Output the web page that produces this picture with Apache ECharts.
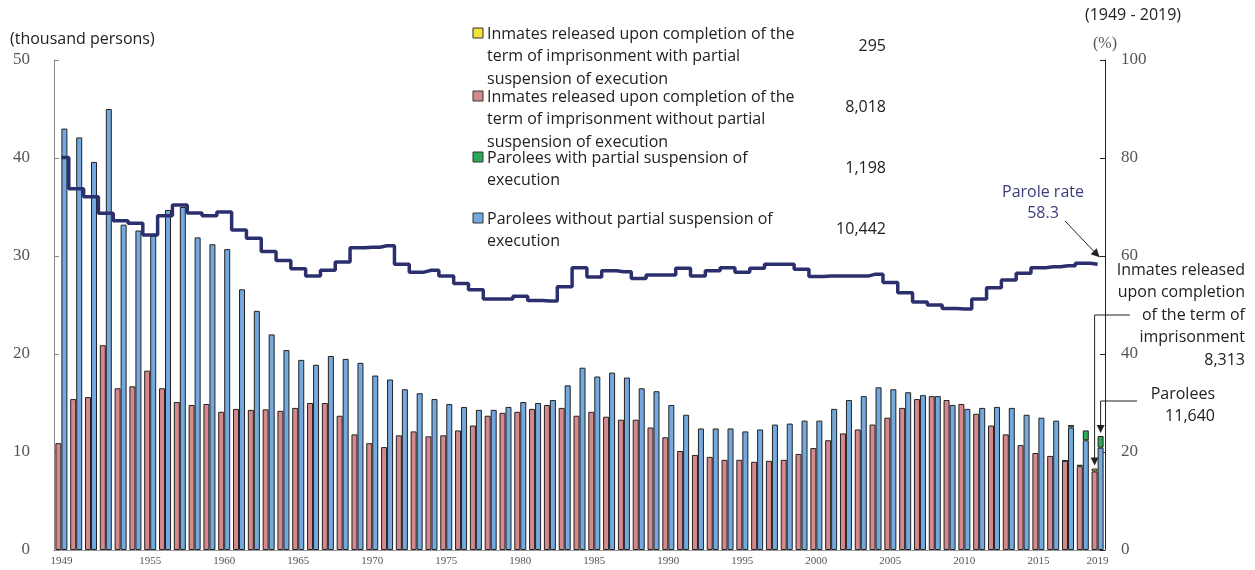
<!DOCTYPE html>
<html>
<head>
<meta charset="utf-8">
<script src="https://cdn.jsdelivr.net/npm/echarts@6/dist/echarts.min.js"></script>
<style>
  html, body { margin: 0; padding: 0; background: #fff; }
  #main { width: 1255px; height: 570px; }
</style>
</head>
<body>
<div id="main"></div>
<script>
// years on the category axis, 1949 - 2019
const years = [];
for (let y = 1949; y <= 2019; y++) years.push(String(y));
const tickYears = ['1949', '1955', '1960', '1965', '1970', '1975', '1980', '1985', '1990',
    '1995', '2000', '2005', '2010', '2015', '2019'];

// thousand persons
const releasedWithout = [
    10.9, 15.4, 15.6, 20.9, 16.5, 16.7, 18.3, 16.5, 15.1, 14.8,
    14.9, 14.1, 14.4, 14.3, 14.35, 14.2, 14.5, 15.0, 15.0, 13.7,
    11.8, 10.9, 10.5, 11.7, 12.1, 11.6, 11.7, 12.2, 12.7, 13.7,
    14.0, 14.1, 14.4, 14.8, 14.5, 13.7, 14.1, 13.6, 13.3, 13.3,
    12.5, 11.5, 10.1, 9.7, 9.5, 9.2, 9.2, 9.0, 9.1, 9.2,
    9.8, 10.4, 11.2, 11.9, 12.3, 12.8, 13.5, 14.5, 15.4, 15.7,
    15.3, 14.9, 13.9, 12.7, 11.8, 10.7, 9.9, 9.6, 9.1, 8.55,
    8.018
];
const releasedWith = [
    null, null, null, null, null, null, null, null, null, null,
    null, null, null, null, null, null, null, null, null, null,
    null, null, null, null, null, null, null, null, null, null,
    null, null, null, null, null, null, null, null, null, null,
    null, null, null, null, null, null, null, null, null, null,
    null, null, null, null, null, null, null, null, null, null,
    null, null, null, null, null, null, null, null, 0.03, 0.15,
    0.295
];
const paroleWithout = [
    43.0, 42.1, 39.6, 45.0, 33.2, 32.6, 32.1, 34.7, 35.0, 31.9,
    31.2, 30.7, 26.6, 24.4, 22.0, 20.4, 19.4, 18.9, 19.8, 19.5,
    19.1, 17.8, 17.4, 16.4, 16.0, 15.4, 14.9, 14.6, 14.3, 14.3,
    14.6, 15.1, 15.0, 15.3, 16.8, 18.6, 17.7, 18.1, 17.6, 16.5,
    16.2, 14.8, 13.8, 12.4, 12.4, 12.4, 12.1, 12.3, 12.8, 12.9,
    13.2, 13.2, 14.4, 15.3, 15.7, 16.6, 16.4, 16.1, 15.8, 15.7,
    14.8, 14.4, 14.5, 14.6, 14.5, 13.8, 13.5, 13.2, 12.5, 11.2,
    10.442
];
const paroleWith = [
    null, null, null, null, null, null, null, null, null, null,
    null, null, null, null, null, null, null, null, null, null,
    null, null, null, null, null, null, null, null, null, null,
    null, null, null, null, null, null, null, null, null, null,
    null, null, null, null, null, null, null, null, null, null,
    null, null, null, null, null, null, null, null, null, null,
    null, null, null, null, null, null, null, null, 0.25, 1.0,
    1.198
];
// %
const paroleRate = [
    80.1, 73.7, 72.1, 68.7, 67.2, 66.7, 64.3, 68.2, 70.4, 68.8,
    68.2, 69.0, 65.3, 63.6, 60.9, 59.1, 57.4, 55.9, 57.1, 58.8,
    61.7, 61.8, 62.1, 58.3, 56.7, 57.1, 55.9, 54.4, 53.1, 51.2,
    51.2, 51.8, 50.9, 50.8, 53.7, 57.6, 55.7, 57.0, 56.8, 55.4,
    56.1, 56.1, 57.5, 55.9, 57.0, 57.6, 56.7, 57.5, 58.3, 58.3,
    57.3, 55.8, 55.9, 55.9, 55.9, 56.3, 54.6, 52.5, 50.6, 50.0,
    49.3, 49.2, 51.2, 53.5, 55.1, 56.5, 57.6, 57.8, 58.0, 58.5,
    58.3
];

const names = [
    'Inmates released upon completion of the term of imprisonment with partial suspension of execution',
    'Inmates released upon completion of the term of imprisonment without partial suspension of execution',
    'Parolees with partial suspension of execution',
    'Parolees without partial suspension of execution'
];
// legend text as it wraps in the original, and the 2019 numbers
const legendLines = [
    'Inmates released upon completion of the\nterm of imprisonment with partial\nsuspension of execution',
    'Inmates released upon completion of the\nterm of imprisonment without partial\nsuspension of execution',
    'Parolees with partial suspension of\nexecution',
    'Parolees without partial suspension of\nexecution'
];
const legendNumbers = ['295', '8,018', '1,198', '10,442'];

const colors = {
    yellow: '#f2e437',
    pink: '#d4898c',
    green: '#2bab55',
    blue: '#73a9de',
    line: '#2c2f6e'
};

const sans = '"Open Sans", "Noto Sans", sans-serif';
const serif = '"Liberation Serif", "DejaVu Serif", serif';

let myChart = echarts.init(document.getElementById('main'));

const barBorder = { borderColor: '#222', borderWidth: 1 };

let option = {
    animation: false,
    grid: { left: 54, right: 150, top: 60, bottom: 20 },
    xAxis: {
        type: 'category',
        data: years,
        axisLine: { lineStyle: { color: '#999' } },
        axisTick: { show: false },
        axisLabel: {
            interval: function (idx, val) { return tickYears.indexOf(val) >= 0; },
            fontFamily: serif,
            fontSize: 11,
            color: '#555',
            margin: 6
        }
    },
    yAxis: [
        {
            type: 'value',
            min: 0, max: 50, interval: 10,
            splitLine: { show: false },
            axisLine: { show: true, lineStyle: { color: '#888' } },
            axisTick: { show: true, inside: true, length: 5, lineStyle: { color: '#888' } },
            axisLabel: { fontFamily: serif, fontSize: 17, color: '#555', margin: 24 }
        },
        {
            type: 'value',
            min: 0, max: 100, interval: 20,
            name: '(%)',
            nameLocation: 'end',
            nameGap: 8,
            nameTextStyle: { fontFamily: serif, fontSize: 16, color: '#555', align: 'center' },
            splitLine: { show: false },
            axisLine: { show: true, lineStyle: { color: '#222' } },
            axisTick: { show: true, inside: true, length: 5, lineStyle: { color: '#222' } },
            axisLabel: { fontFamily: serif, fontSize: 17, color: '#555', margin: 16 }
        }
    ],
    series: [
        {
            name: names[1], type: 'bar', stack: 'released', data: releasedWithout,
            barWidth: 6, barGap: '0%',
            itemStyle: Object.assign({ color: colors.pink }, barBorder)
        },
        {
            name: names[0], type: 'bar', stack: 'released', data: releasedWith,
            barWidth: 6, barGap: '0%',
            itemStyle: Object.assign({ color: colors.yellow }, barBorder)
        },
        {
            name: names[3], type: 'bar', stack: 'parole', data: paroleWithout,
            barWidth: 6, barGap: '0%',
            itemStyle: Object.assign({ color: colors.blue }, barBorder)
        },
        {
            name: names[2], type: 'bar', stack: 'parole', data: paroleWith,
            barWidth: 6, barGap: '0%',
            itemStyle: Object.assign({ color: colors.green }, barBorder)
        },
        {
            name: 'Parole rate', type: 'line', yAxisIndex: 1, data: paroleRate,
            step: 'middle', symbol: 'none', z: 5,
            lineStyle: { color: colors.line, width: 3.5 }
        }
    ]
};
myChart.setOption(option);

// annotations: placed after layout so arrows point at the 2019 marks
function arrowHead(x, y, dir) {
    // dir: 'down' or 'downright'
    if (dir === 'down') return [[x - 4, y - 8], [x + 4, y - 8], [x, y]];
    return [[x - 9, y - 3], [x - 3, y - 9], [x, y]];
}

const last = years[years.length - 1];
const cx = myChart.convertToPixel({ xAxisIndex: 0 }, last);
const releasedTop = myChart.convertToPixel({ yAxisIndex: 0 }, releasedWithout[70] + releasedWith[70]);
const paroleTop = myChart.convertToPixel({ yAxisIndex: 0 }, paroleWithout[70] + paroleWith[70]);
const rateY = myChart.convertToPixel({ yAxisIndex: 1 }, paroleRate[70]);

const pinkX = cx - 3, blueX = cx + 3;
const legendSquares = [colors.yellow, colors.pink, colors.green, colors.blue];
const legendTops = [23, 86, 147, 208];

let graphic = [];
legendSquares.forEach(function (c, i) {
    graphic.push({
        type: 'rect', shape: { x: 473, y: legendTops[i] + 5, width: 10, height: 10 },
        style: { fill: c, stroke: '#333', lineWidth: 1 }
    });
    graphic.push({
        type: 'text', x: 487, y: legendTops[i],
        style: { text: legendLines[i], font: '16px ' + sans, fill: '#222', lineHeight: 22.5 }
    });
    graphic.push({
        type: 'text', x: 886, y: legendTops[i] + 13 + (i === 0 ? 2 : 0),
        style: { text: legendNumbers[i], font: '16px ' + sans, fill: '#222', align: 'right' }
    });
});

graphic.push(
    { type: 'text', x: 10, y: 31, style: { text: '(thousand persons)', font: '16px ' + sans, fill: '#222' } },
    { type: 'text', x: 1133, y: 7, style: { text: '(1949 - 2019)', font: '16px ' + sans, fill: '#222', align: 'center' } },
    // parole rate
    { type: 'text', x: 1043, y: 182, style: { text: 'Parole rate\n58.3', font: '16px ' + sans, fill: '#3a3e7c', align: 'center', lineHeight: 21 } },
    { type: 'line', shape: { x1: 1065, y1: 221, x2: cx + 2, y2: rateY - 7 }, style: { stroke: '#222', lineWidth: 1 } },
    { type: 'polygon', shape: { points: arrowHead(cx + 2, rateY - 7, 'downright') }, style: { fill: '#222' } },
    // released upon completion
    { type: 'text', x: 1245, y: 259, style: { text: 'Inmates released\nupon completion\nof the term of\nimprisonment\n8,313', font: '16px ' + sans, fill: '#222', align: 'right', lineHeight: 22.5 } },
    { type: 'polyline', shape: { points: [[1130, 315], [pinkX, 315], [pinkX, releasedTop - 6]] }, style: { stroke: '#222', lineWidth: 1, fill: null } },
    { type: 'polygon', shape: { points: arrowHead(pinkX, releasedTop - 3, 'down') }, style: { fill: '#222' } },
    // parolees
    { type: 'text', x: 1215, y: 383, style: { text: 'Parolees\n11,640', font: '16px ' + sans, fill: '#222', align: 'right', lineHeight: 22.5 } },
    { type: 'polyline', shape: { points: [[1137, 401], [blueX, 401], [blueX, paroleTop - 6]] }, style: { stroke: '#222', lineWidth: 1, fill: null } },
    { type: 'polygon', shape: { points: arrowHead(blueX, paroleTop - 3, 'down') }, style: { fill: '#222' } }
);

myChart.setOption({ graphic: graphic });
</script>
</body>
</html>
